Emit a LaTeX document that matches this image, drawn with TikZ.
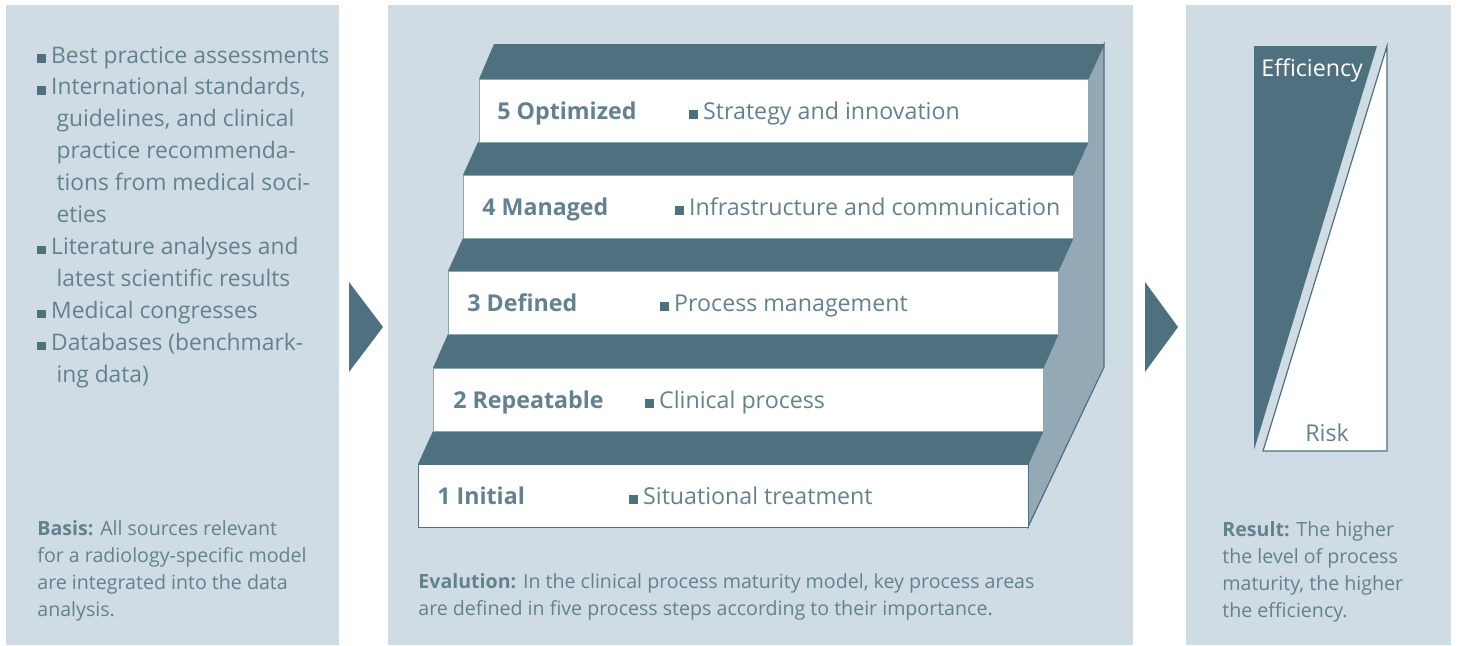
\documentclass[tikz,border=0pt]{standalone}
\usepackage{fontspec}
\setmainfont{Open Sans}
\usepackage{tikz}

% kleines Quadrat als Aufzaehlungszeichen
\newcommand{\sqb}{\textcolor{stepcolor}{\rule{4.3pt}{4.3pt}}\hspace{2.6pt}}
\newcommand{\contind}{\hspace*{9.6pt}}

\begin{document}
\begin{tikzpicture}[x=0.5pt, y=-0.5pt,
    listtext/.style={anchor=base west, inner sep=0pt, align=left, text=labelcolor,
      font=\fontsize{11.4}{15.95}\selectfont},
    steplabel/.style={anchor=base west, inner sep=0pt, text=labelcolor,
      font=\fontsize{11.6}{14}\selectfont\bfseries},
    stepitem/.style={anchor=base west, inner sep=0pt, text=labelcolor,
      font=\fontsize{11.6}{14}\selectfont},
    notetext/.style={anchor=base west, inner sep=0pt, align=left, text=labelcolor,
      font=\fontsize{9.8}{13.5}\selectfont},
    stepbox/.style={fill=white, draw=edgecolor, line width=0.5pt},
    stepface/.style={fill=stepcolor}]

    % Farben
    \definecolor{panelcolor}{HTML}{D0DCE3}
    \definecolor{stepcolor}{HTML}{4E707F}
    \definecolor{sidecolor}{HTML}{93AAB6}
    \definecolor{edgecolor}{HTML}{8FA6B2}
    \definecolor{labelcolor}{HTML}{62828F}

    \useasboundingbox (0,0) rectangle (1458,645);

    % Hintergrundflaechen
    \fill[panelcolor] (6,5) rectangle (339,645);
    \fill[panelcolor] (388,5) rectangle (1133,645);
    \fill[panelcolor] (1186,5) rectangle (1451,645);

    % Pfeile zwischen den Flaechen
    \fill[stepcolor] (349,282) -- (383,327) -- (349,372) -- cycle;
    \fill[stepcolor] (1145,282) -- (1178,327) -- (1145,372) -- cycle;

    % Quellen (links), Anker = Grundlinie der letzten Zeile
    \node[listtext] (sources) at (37,382) {\sqb Best practice assessments\\
      \sqb International standards,\\
      \contind guidelines, and clinical\\
      \contind practice recommenda-\\
      \contind tions from medical soci-\\
      \contind eties\\
      \sqb Literature analyses and\\
      \contind latest scientific results\\
      \sqb Medical congresses\\
      \sqb Databases (benchmark-\\
      \contind ing data)};
    \node[notetext] (basis) at (37,616) {\textbf{Basis:} All sources relevant\\
      for a radiology-specific model\\
      are integrated into the data\\
      analysis.};

    % Treppe: Seitenflaeche
    \filldraw[fill=sidecolor, draw=stepcolor, line width=0.6pt]
      (1104,44) -- (1104,367) -- (1028,527) -- (1028,464) -- (1043,431)
      -- (1043,368) -- (1058,334) -- (1058,271) -- (1073,238) -- (1073,175)
      -- (1088,142) -- (1088,79) -- cycle;

    % Treppe: Trittflaechen
    \fill[stepface] (494,44) -- (1104,44) -- (1088,79) -- (479,79) -- cycle;
    \fill[stepface] (478,142) -- (1088,142) -- (1073,175) -- (463,175) -- cycle;
    \fill[stepface] (463,238) -- (1073,238) -- (1058,271) -- (448,271) -- cycle;
    \fill[stepface] (448,334) -- (1058,334) -- (1043,368) -- (433,368) -- cycle;
    \fill[stepface] (433,431) -- (1043,431) -- (1028,464) -- (418,464) -- cycle;

    % Treppe: Stufen
    \filldraw[stepbox] (479,79) rectangle (1088,142);
    \filldraw[stepbox] (463,175) rectangle (1073,238);
    \filldraw[stepbox] (448,271) rectangle (1058,334);
    \filldraw[stepbox] (433,368) rectangle (1043,431);
    \filldraw[stepbox, draw=stepcolor] (418,464) rectangle (1028,527);

    % Stufen beschriften
    \node[steplabel] (lbl5) at (497,119) {5 Optimized};
    \node[stepitem] (item5) at (689,119) {\sqb Strategy and innovation};
    \node[steplabel] (lbl4) at (482,215) {4 Managed};
    \node[stepitem] (item4) at (675,215) {\sqb Infrastructure and communication};
    \node[steplabel] (lbl3) at (467,311) {3 Defined};
    \node[stepitem] (item3) at (660,311) {\sqb Process management};
    \node[steplabel] (lbl2) at (453,408) {2 Repeatable};
    \node[stepitem] (item2) at (645,408) {\sqb Clinical process};
    \node[steplabel] (lbl1) at (437,504) {1 Initial};
    \node[stepitem] (item1) at (629,504) {\sqb Situational treatment};

    \node[notetext] (evalution) at (418,615) {\textbf{Evalution:} In the clinical process maturity model, key process areas\\
      are defined in five process steps according to their importance.};

    % Ergebnis (rechts)
    \fill[stepcolor] (1254,46) -- (1377,46) -- (1254,450) -- cycle;
    \filldraw[fill=white, draw=stepcolor, line width=0.6pt] (1387,46) -- (1387,451) -- (1263,451) -- cycle;
    \node[stepitem, text=white] (efficiency) at (1261,76) {Efficiency};
    \node[stepitem] (risk) at (1305,441) {Risk};

    \node[notetext] (result) at (1222,617) {\textbf{Result:} The higher\\
      the level of process\\
      maturity, the higher\\
      the efficiency.};

\end{tikzpicture}
\end{document}
